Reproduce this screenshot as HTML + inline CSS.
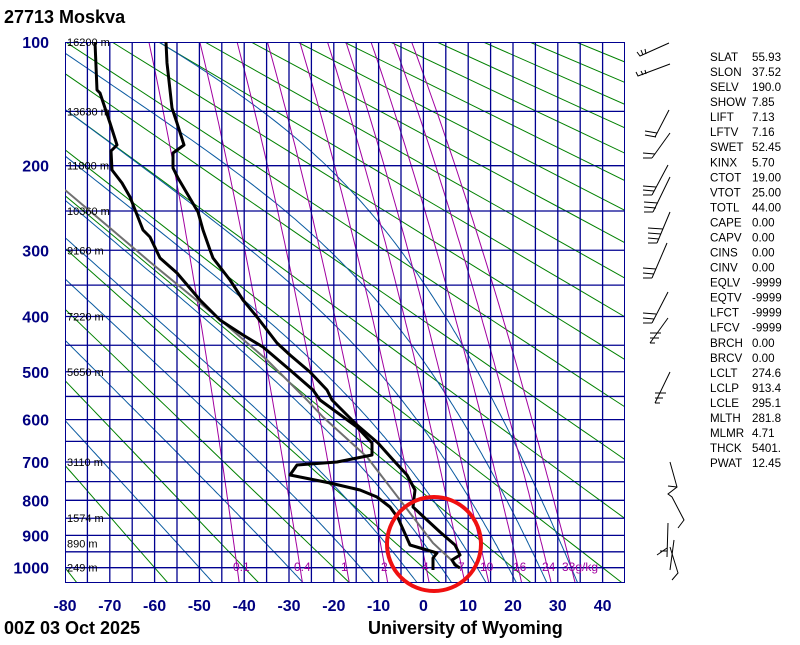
<!DOCTYPE html>
<html><head><meta charset="utf-8"><style>
html,body{margin:0;padding:0;background:#fff;}
body{width:800px;height:640px;overflow:hidden;}
svg text{font-family:"Liberation Sans",sans-serif;}
</style></head><body>
<svg id="s" width="800" height="640" xmlns="http://www.w3.org/2000/svg">
<defs><clipPath id="c"><rect x="65" y="42" width="560" height="541"/></clipPath></defs>
<g id="grid" clip-path="url(#c)"></g>
<g id="data" clip-path="url(#c)" fill="none" stroke-linejoin="round">
<polyline stroke="#707070" stroke-width="2" points="65,190 110,228 150,262 217,317 267,360 307,400 323,417 367,457 400,500 433,543 460,568"/>
<polyline stroke="#000" stroke-width="3" points="95,42 97,90 100,93 110,123 117,145 111,151 112,170 122,183 130,197 143,230 150,237 160,258 177,273 200,300 220,320 243,335 263,347 290,370 313,390 320,400 357,427 372,443 372,455 337,462 297,465 290,475 330,483 360,490 377,497 390,507 398,518 410,545 437,553 433,558 433,570"/>
<polyline stroke="#000" stroke-width="3" points="166,42 167,63 170,90 172,108 177,123 184,145 173,153 173,168 178,178 198,212 203,230 210,250 213,258 230,280 243,300 257,317 267,330 277,343 290,355 310,372 327,390 332,400 357,425 378,443 395,462 407,475 415,490 413,507 427,520 440,532 455,545 460,555 452,560 455,565 460,568"/>
</g>
<g id="lbl"></g>
<circle cx="434" cy="544" r="47" fill="none" stroke="#f01010" stroke-width="4"/>
<g stroke="#000" stroke-width="1" fill="none">
<polyline points="637,52 640,56 669,43"/><line x1="641" y1="50" x2="643" y2="55"/><line x1="645" y1="49" x2="646" y2="54"/>
<polyline points="636,72 638,76 670,64"/><line x1="641" y1="71" x2="643" y2="75"/><line x1="645" y1="70" x2="646" y2="74"/>
<line x1="655" y1="137" x2="669" y2="110"/><line x1="645" y1="131" x2="657" y2="133"/><line x1="645" y1="135" x2="656" y2="137"/>
<line x1="652" y1="158" x2="670" y2="133"/><line x1="643" y1="153" x2="655" y2="154"/><line x1="643" y1="158" x2="652" y2="158"/>
<line x1="652" y1="195" x2="668" y2="165"/><line x1="643" y1="186" x2="656" y2="187"/><line x1="643" y1="190" x2="654" y2="191"/><line x1="643" y1="195" x2="652" y2="195"/>
<line x1="653" y1="212" x2="670" y2="177"/><line x1="644" y1="202" x2="658" y2="203"/><line x1="644" y1="207" x2="656" y2="208"/><line x1="644" y1="212" x2="653" y2="212"/>
<line x1="657" y1="243" x2="670" y2="212"/><line x1="648" y1="228" x2="663" y2="229"/><line x1="648" y1="233" x2="661" y2="234"/><line x1="648" y1="238" x2="659" y2="239"/><line x1="648" y1="243" x2="657" y2="243"/>
<line x1="652" y1="278" x2="667" y2="243"/><line x1="643" y1="268" x2="656" y2="269"/><line x1="643" y1="273" x2="654" y2="274"/><line x1="643" y1="278" x2="652" y2="278"/>
<line x1="652" y1="323" x2="668" y2="292"/><line x1="643" y1="313" x2="656" y2="314"/><line x1="643" y1="318" x2="654" y2="319"/><line x1="643" y1="323" x2="652" y2="323"/>
<line x1="650" y1="343" x2="668" y2="318"/><line x1="650" y1="333" x2="661" y2="333"/><line x1="650" y1="338" x2="659" y2="338"/><line x1="650" y1="343" x2="655" y2="343"/>
<line x1="655" y1="403" x2="670" y2="372"/><line x1="655" y1="393" x2="666" y2="393"/><line x1="655" y1="398" x2="663" y2="398"/><line x1="655" y1="403" x2="660" y2="403"/>
<polyline points="670,462 677,487 668,494 672,497 684,520 678,528"/><line x1="668" y1="486" x2="677" y2="487"/>
<line x1="668" y1="523" x2="667" y2="557"/><line x1="657" y1="555" x2="667" y2="548"/><line x1="660" y1="551" x2="667" y2="551"/>
<line x1="674" y1="540" x2="670" y2="570"/><polyline points="670,547 678,573 672,580"/>
</g>
<g font-size="11.6" fill="#000" id="stats"></g>
<text x="4" y="23" font-size="18" font-weight="bold">27713  Moskva</text>
<text x="4" y="634" font-size="18" font-weight="bold">00Z 03 Oct 2025</text>
<text x="368" y="634" font-size="18" font-weight="bold">University of Wyoming</text>
</svg>
<script>
(function(){
var NS="http://www.w3.org/2000/svg",K=0.2857;
function X(T){return 65+(T+80)*4.48;}
var P0=Math.pow(100,K),P1=Math.pow(1050,K);
function Y(p){return 42+(Math.pow(p,K)-P0)/(P1-P0)*541;}
function el(parent,tag,attrs,txt){var e=document.createElementNS(NS,tag);for(var k in attrs)e.setAttribute(k,attrs[k]);if(txt!=null)e.textContent=txt;document.getElementById(parent).appendChild(e);return e;}
function poly(pts,col,w){el("grid","polyline",{points:pts.map(function(a){return a[0].toFixed(1)+","+a[1].toFixed(1);}).join(" "),fill:"none",stroke:col,"stroke-width":w});}
for(var th=-80;th<=360;th+=20){var pts=[];for(var p=100;p<=1050;p+=25){var T=(th+273.15)*Math.pow(p/1000,K)-273.15;pts.push([X(T),Y(p)]);}poly(pts,"#008000",1);}
function es(T){return 6.112*Math.exp(17.67*T/(T+243.5));}
function dTdp(T,p){var Tk=T+273.15,e=es(T),rs=0.622*e/(p-e);return (287*Tk+2.5e6*rs)/(1004+2.5e6*2.5e6*rs*0.622/(287*Tk*Tk))/p;}
[-50,-30,-14,-4,4,12,19,26,33].forEach(function(t0){var pts=[],T=t0,p;for(p=1000;p>=100;p-=5){pts.push([X(T),Y(p)]);T-=dTdp(T,p)*5;}var pts2=[],T2=t0;for(p=1000;p<=1050;p+=5){pts2.push([X(T2),Y(p)]);T2+=dTdp(T2,p)*5;}poly(pts2.reverse().concat(pts),"#0a5aa0",1);});
var ws=[0.1,0.4,1,2,4,7,10,16,24,33];
ws.forEach(function(w){var pts=[];for(var p=100;p<=1050;p+=10){var e=w/1000*p/(0.622+w/1000),L=Math.log(e/6.112),T=243.5*L/(17.67-L);pts.push([X(T),Y(p)]);}poly(pts,"#a000a0",1);});
for(var t=-80;t<=45;t+=5)el("grid","line",{x1:X(t),y1:42,x2:X(t),y2:583,stroke:"#000090","stroke-width":1.3});
for(var p=100;p<=1050;p+=50)el("grid","line",{x1:65,y1:Y(p),x2:625,y2:Y(p),stroke:"#000090","stroke-width":1.3});
el("grid","rect",{x:65,y:42,width:560,height:541,fill:"none",stroke:"#000090","stroke-width":2});
[100,200,300,400,500,600,700,800,900,1000].forEach(function(p){el("lbl","text",{x:49,y:Y(p)+6,"text-anchor":"end","font-size":"16","font-weight":"bold",fill:"#000080"},p);});
for(var t=-80;t<=40;t+=10)el("lbl","text",{x:X(t),y:611,"text-anchor":"middle","font-size":"16","font-weight":"bold",fill:"#000080"},t);
[[100,"16200 m"],[150,"13630 m"],[200,"11800 m"],[250,"10360 m"],[300,"9160 m"],[400,"7220 m"],[500,"5650 m"],[700,"3110 m"],[850,"1574 m"],[925,"890 m"],[1000,"249 m"]].forEach(function(a){el("lbl","text",{x:67,y:Y(a[0])+4,"font-size":"11",fill:"#000"},a[1]);});
[[237,"0.1"],[298,"0.4"],[345,"1"],[385,"2"],[426,"4"],[462,"7"],[484,"10"],[517,"16"],[546,"24"],[566,"33g/kg"]].forEach(function(a){el("lbl","text",{x:a[0]-4,y:571,"font-size":"12",fill:"#a000a0"},a[1]);});
var st=[["SLAT","55.93"],["SLON","37.52"],["SELV","190.0"],["SHOW","7.85"],["LIFT","7.13"],["LFTV","7.16"],["SWET","52.45"],["KINX","5.70"],["CTOT","19.00"],["VTOT","25.00"],["TOTL","44.00"],["CAPE","0.00"],["CAPV","0.00"],["CINS","0.00"],["CINV","0.00"],["EQLV","-9999"],["EQTV","-9999"],["LFCT","-9999"],["LFCV","-9999"],["BRCH","0.00"],["BRCV","0.00"],["LCLT","274.6"],["LCLP","913.4"],["LCLE","295.1"],["MLTH","281.8"],["MLMR","4.71"],["THCK","5401."],["PWAT","12.45"]];
st.forEach(function(a,i){var y=61+i*15.04;el("stats","text",{x:710,y:y},a[0]);el("stats","text",{x:752,y:y},a[1]);});
})();
</script>
</body></html>
